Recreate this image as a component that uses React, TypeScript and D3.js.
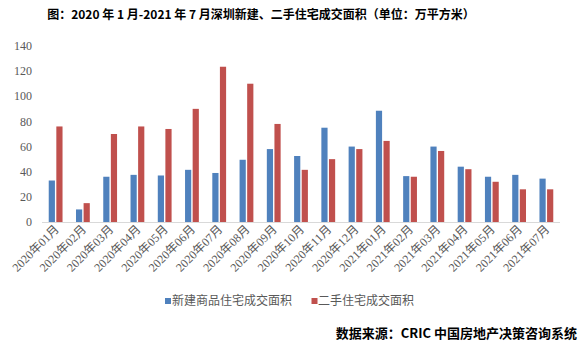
import React from "react";
import * as d3 from "d3";

const categories = [
  "2020年01月","2020年02月","2020年03月","2020年04月","2020年05月","2020年06月","2020年07月","2020年08月","2020年09月","2020年10月",
  "2020年11月","2020年12月","2021年01月","2021年02月","2021年03月","2021年04月","2021年05月","2021年06月","2021年07月",
];
const newHomes = [33, 10, 36, 37.5, 37, 41.5, 39, 49.5, 58, 52.5, 75, 60, 88.5, 36.5, 60, 44, 36, 37.5, 34.5];
const resale = [76, 15, 70, 76, 74, 90, 123.5, 110, 78, 41.5, 50, 58, 64.5, 36, 56.5, 42, 32, 26, 26];
const yTicks = [0, 20, 40, 60, 80, 100, 120, 140];
const seriesNames = ["新建商品住宅成交面积", "二手住宅成交面积"];
const title = "图：2020 年 1 月-2021 年 7 月深圳新建、二手住宅成交面积（单位：万平方米）";
const source = "数据来源：CRIC 中国房地产决策咨询系统";

const W = 585, H = 356;
const left = 42, right = 560, top = 46, bottom = 222;
const BLUE = "#4F81BD", RED = "#C0504D";
const FONT = "'Liberation Serif', 'Noto Sans CJK SC', serif";
const CJK = "'Noto Sans CJK SC', sans-serif";

export default function App() {
  const x = d3.scaleBand<string>().domain(categories).range([left, right]).paddingInner(0).paddingOuter(0);
  const y = d3.scaleLinear().domain([0, 140]).range([bottom, top]);
  const bw = x.bandwidth();
  const barW = 6.2;
  const gap = 1.4;
  return (
    <svg width={W} height={H} style={{ position: "absolute", left: 0, top: 0, background: "#fff" }}>
      <text x={261} y={18.5} textAnchor="middle" fontSize={12} fontWeight="bold" fontFamily={CJK} fill="#000">{title}</text>
      {yTicks.map((t) => (
        <text key={t} x={32} y={y(t)} dy="0.35em" textAnchor="end" fontSize={12} fontFamily={FONT} fill="#595959">{t}</text>
      ))}
      {categories.map((c, i) => {
        const cx = (x(c) as number) + bw / 2;
        return (
          <g key={c}>
            <rect x={cx - gap / 2 - barW} y={y(newHomes[i])} width={barW} height={bottom - y(newHomes[i])} fill={BLUE} />
            <rect x={cx + gap / 2} y={y(resale[i])} width={barW} height={bottom - y(resale[i])} fill={RED} />
            <text x={cx + 4} y={230} textAnchor="end" fontSize={12} fontFamily={FONT} fill="#595959" transform={`rotate(-45 ${cx + 4} 230)`}>{c}</text>
          </g>
        );
      })}
      <line x1={left} x2={right} y1={bottom + 0.5} y2={bottom + 0.5} stroke="#D9D9D9" strokeWidth={1} />
      <rect x={165} y={298} width={6} height={6} fill={BLUE} />
      <text x={172} y={301} dy="0.35em" fontSize={12} fontFamily={CJK} fill="#595959">{seriesNames[0]}</text>
      <rect x={311.5} y={298} width={6} height={6} fill={RED} />
      <text x={318} y={301} dy="0.35em" fontSize={12} fontFamily={CJK} fill="#595959">{seriesNames[1]}</text>
      <text x={577} y={333} dy="0.35em" textAnchor="end" fontSize={13} fontWeight="bold" fontFamily={CJK} fill="#000">{source}</text>
    </svg>
  );
}
